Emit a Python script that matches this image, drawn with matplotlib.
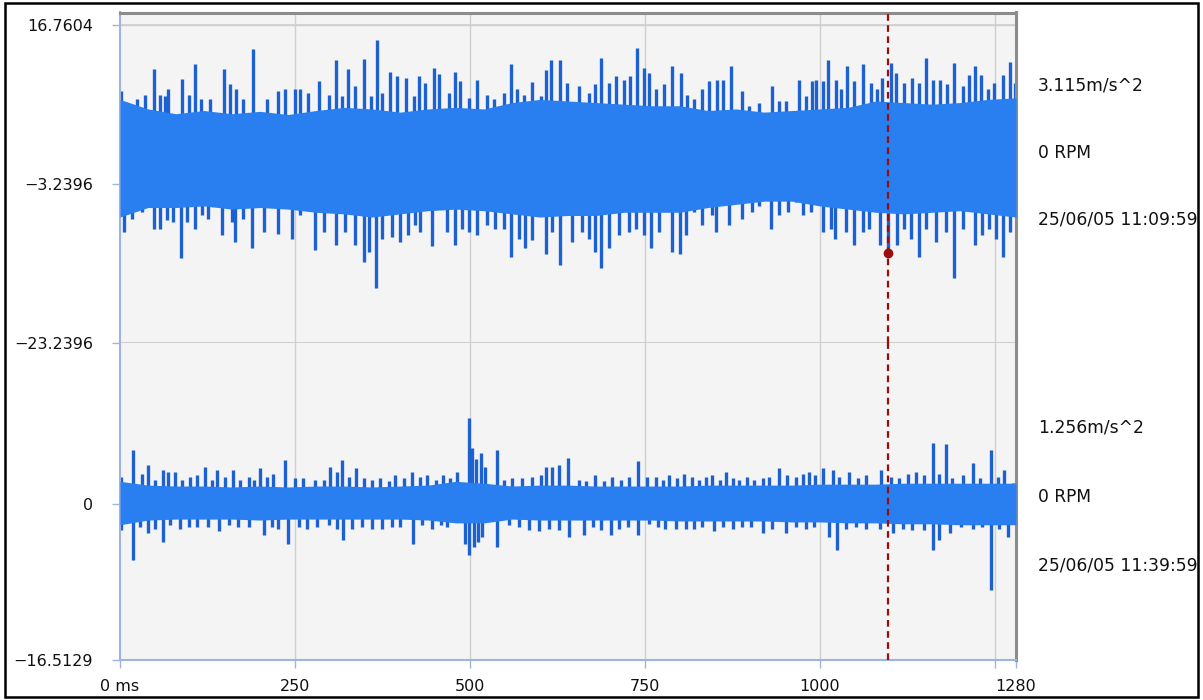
import matplotlib
matplotlib.use("Agg")
import matplotlib.pyplot as plt
from matplotlib.patches import Rectangle
import numpy as np

# time axis (ms)
t_end = 1280
x_ticks = [0, 250, 500, 750, 1000, 1250, 1280]
x_labels = ['0 ms', '250', '500', '750', '1000', '', '1280']

# core band of each channel, sampled every 40 ms
core_t = list(range(0, 1281, 40))
top_core_hi = [7.4, 6.2, 5.6, 6.0, 5.6, 5.9, 5.5, 6.0, 6.4, 6.2,
               5.8, 6.2, 6.4, 6.2, 7.0, 7.4, 7.2, 7.0, 6.8, 6.6,
               6.6, 6.0, 6.2, 5.8, 6.0, 6.2, 6.4, 7.2, 7.0, 6.8,
               7.0, 7.4, 7.6]
top_core_lo = [-7.4, -6.2, -6.2, -6.0, -6.4, -6.2, -6.4, -6.8, -7.0, -7.4,
               -7.0, -6.6, -6.4, -6.6, -7.0, -7.4, -7.2, -7.2, -6.8, -6.8,
               -6.8, -6.2, -5.8, -5.4, -5.4, -6.0, -6.4, -6.8, -7.0, -6.8,
               -6.6, -7.0, -7.4]
bot_core_hi = [2.4, 2.0, 1.9, 1.9, 1.8, 1.9, 1.8, 1.9, 1.9, 1.8,
               1.9, 2.0, 2.4, 2.2, 1.9, 2.0, 2.0, 1.9, 1.9, 1.9,
               1.9, 2.0, 2.0, 2.0, 2.0, 2.1, 2.1, 2.1, 2.2, 2.2,
               2.2, 2.2, 2.2]
bot_core_lo = [-2.2, -1.7, -1.6, -1.6, -1.6, -1.7, -1.6, -1.6, -1.6, -1.6,
               -1.6, -1.7, -2.0, -2.0, -1.6, -1.7, -1.7, -1.7, -1.7, -1.7,
               -1.8, -1.8, -1.8, -1.8, -1.9, -1.9, -2.0, -2.0, -2.1, -2.1,
               -2.2, -2.2, -2.2]

# peaks of channel 1 (m/s^2)
top_up_t = [2, 24, 35, 49, 57, 64, 69, 88, 98, 107,
            116, 129, 148, 157, 165, 176, 190, 210, 226, 236,
            250, 257, 268, 284, 298, 308, 317, 325, 336, 348,
            358, 367, 374, 386, 396, 408, 420, 427, 435, 448,
            456, 470, 479, 485, 498, 510, 524, 534, 548, 559,
            567, 577, 589, 601, 608, 616, 628, 639, 656, 670,
            679, 687, 698, 709, 720, 729, 739, 748, 756, 765,
            777, 789, 801, 810, 820, 832, 841, 853, 861, 873,
            889, 899, 913, 931, 942, 951, 970, 980, 989, 994,
            1004, 1012, 1023, 1030, 1039, 1049, 1061, 1073, 1082, 1089,
            1101, 1108, 1120, 1132, 1142, 1151, 1161, 1171, 1182, 1192,
            1204, 1213, 1221, 1230, 1240, 1249, 1261, 1272, 1278]
top_up_v = [8.4, 7.4, 8.0, 11.2, 8.0, 7.8, 8.7, 10.0, 8.0, 11.9,
            7.4, 7.4, 11.2, 9.3, 8.7, 7.4, 13.8, 7.4, 8.4, 8.7,
            8.7, 8.7, 8.2, 9.7, 8.0, 12.4, 7.8, 11.2, 9.1, 12.5,
            7.8, 14.9, 8.2, 10.9, 10.3, 10.1, 7.8, 10.3, 9.5, 11.3,
            10.6, 8.2, 10.9, 9.7, 7.6, 9.9, 8.0, 7.4, 8.2, 11.9,
            8.7, 8.0, 9.6, 7.8, 11.1, 12.4, 12.4, 9.5, 9.1, 8.2,
            9.3, 12.6, 9.5, 10.3, 9.9, 10.3, 13.9, 11.4, 10.7, 8.7,
            9.3, 11.6, 10.7, 8.0, 7.4, 8.7, 9.7, 9.9, 9.9, 11.6,
            8.4, 6.6, 7.0, 9.1, 7.2, 7.2, 9.9, 7.8, 9.7, 9.9,
            9.7, 12.4, 9.9, 8.7, 11.6, 9.7, 11.8, 9.5, 8.7, 10.1,
            12.0, 10.7, 9.5, 10.1, 9.5, 12.6, 9.9, 9.9, 9.3, 12.0,
            9.1, 10.5, 11.6, 10.5, 8.7, 9.5, 10.5, 12.1, 9.5]
top_dn_t = [5, 17, 31, 48, 57, 67, 76, 87, 95, 107,
            117, 126, 145, 160, 164, 176, 188, 205, 226, 246,
            257, 279, 291, 308, 322, 336, 348, 355, 366, 374,
            389, 400, 412, 422, 429, 446, 467, 478, 489, 498,
            510, 524, 536, 548, 559, 570, 579, 589, 608, 617,
            628, 646, 660, 670, 679, 687, 698, 713, 727, 737,
            748, 758, 770, 789, 800, 808, 820, 832, 846, 851,
            870, 889, 903, 913, 930, 942, 954, 965, 975, 987,
            1004, 1016, 1022, 1037, 1049, 1061, 1070, 1085, 1097, 1110,
            1120, 1130, 1141, 1151, 1166, 1180, 1191, 1204, 1222, 1232,
            1242, 1252, 1262, 1271]
top_dn_v = [-9.3, -7.6, -6.8, -8.85, -8.85, -7.8, -8.0, -12.6, -8.0, -8.85,
            -7.2, -7.6, -9.7, -8.0, -10.5, -7.6, -11.35, -9.3, -9.5, -10.1,
            -7.2, -11.6, -9.3, -10.9, -9.3, -10.9, -13.0, -11.8, -16.3, -10.1,
            -9.9, -10.5, -9.7, -8.4, -9.3, -11.1, -9.3, -10.9, -8.85, -9.3,
            -9.7, -8.4, -8.85, -8.85, -12.4, -10.1, -11.35, -10.3, -12.0, -9.3,
            -13.4, -10.5, -9.3, -10.1, -11.8, -13.85, -11.35, -9.7, -9.3, -8.85,
            -9.7, -11.35, -9.3, -11.8, -12.0, -9.7, -6.8, -8.4, -7.2, -9.3,
            -8.4, -7.6, -6.8, -5.95, -8.85, -7.2, -6.8, -5.5, -7.2, -6.8,
            -9.3, -8.85, -10.1, -9.3, -10.9, -9.3, -8.85, -10.9, -11.9, -10.9,
            -8.85, -10.1, -12.4, -8.85, -10.5, -9.3, -15.1, -8.85, -10.9, -9.7,
            -8.85, -10.1, -12.4, -9.3]

# peaks of channel 2 (m/s^2)
bot_up_t = [2, 19, 31, 40, 50, 62, 69, 79, 88, 100,
            110, 121, 131, 138, 150, 161, 172, 184, 191, 200,
            210, 219, 236, 250, 262, 279, 291, 300, 310, 317,
            327, 337, 348, 360, 372, 384, 393, 405, 417, 429,
            439, 451, 462, 472, 482, 498, 503, 508, 516, 522,
            539, 548, 560, 574, 589, 601, 608, 617, 627, 640,
            656, 665, 679, 691, 703, 715, 727, 740, 753, 765,
            775, 784, 796, 806, 817, 827, 837, 846, 857, 865,
            875, 884, 896, 906, 918, 927, 942, 953, 965, 975,
            984, 993, 1004, 1018, 1027, 1042, 1054, 1065, 1087, 1101,
            1113, 1125, 1137, 1149, 1161, 1170, 1180, 1189, 1204, 1218,
            1228, 1244, 1254, 1263, 1275]
bot_up_v = [2.9, 5.7, 3.2, 4.1, 2.5, 3.6, 3.4, 3.4, 2.5, 2.9,
            3.1, 3.9, 2.5, 3.6, 2.9, 3.6, 2.5, 2.9, 2.5, 3.8,
            2.9, 3.2, 4.7, 2.7, 2.7, 2.5, 2.5, 3.9, 3.4, 4.7,
            2.9, 3.8, 2.7, 2.5, 2.7, 2.4, 3.1, 2.7, 3.4, 2.9,
            3.1, 2.5, 3.1, 2.7, 3.4, 9.1, 5.9, 4.8, 5.4, 3.9,
            5.7, 2.5, 2.7, 2.7, 2.9, 3.1, 3.9, 3.9, 4.1, 4.9,
            2.5, 2.4, 3.1, 2.4, 2.9, 2.5, 2.9, 4.5, 2.9, 2.9,
            2.5, 3.1, 2.7, 3.2, 2.9, 2.5, 2.9, 3.1, 2.5, 3.4,
            2.7, 2.5, 2.9, 2.5, 2.7, 2.9, 3.8, 3.1, 2.9, 3.2,
            3.4, 3.1, 3.8, 3.6, 2.9, 3.4, 2.7, 3.1, 3.6, 2.9,
            2.7, 3.2, 3.4, 3.1, 6.5, 3.2, 6.4, 2.7, 3.1, 4.3,
            2.7, 5.7, 2.9, 3.6, 2.2]
bot_dn_t = [2, 18, 29, 40, 50, 62, 72, 86, 98, 110,
            126, 141, 155, 169, 184, 205, 217, 226, 240, 255,
            267, 281, 298, 310, 319, 331, 346, 360, 374, 389,
            400, 419, 431, 446, 458, 467, 479, 493, 499, 505,
            512, 517, 539, 555, 570, 584, 598, 613, 627, 641,
            663, 675, 687, 701, 713, 725, 740, 756, 768, 779,
            794, 808, 820, 832, 849, 861, 875, 889, 901, 918,
            932, 951, 965, 980, 992, 1013, 1024, 1037, 1051, 1065,
            1085, 1104, 1118, 1132, 1149, 1161, 1170, 1185, 1201, 1218,
            1232, 1244, 1256, 1268]
bot_dn_v = [-2.8, -5.9, -2.4, -3.1, -2.6, -4.0, -2.2, -2.6, -2.4, -2.4,
            -2.4, -2.9, -2.2, -2.4, -2.4, -3.3, -2.4, -2.6, -4.2, -2.4,
            -2.6, -2.4, -2.2, -2.6, -3.8, -2.6, -2.4, -2.6, -2.6, -2.4,
            -2.4, -4.2, -2.2, -2.6, -2.2, -2.4, -1.7, -4.2, -5.4, -4.5,
            -4.0, -3.5, -4.5, -2.2, -2.4, -2.8, -2.9, -2.6, -2.8, -3.5,
            -3.3, -2.4, -2.8, -3.3, -2.6, -2.4, -3.3, -2.1, -2.4, -2.6,
            -2.6, -2.6, -2.6, -2.4, -2.9, -2.4, -2.6, -2.4, -2.4, -3.1,
            -2.6, -3.1, -2.4, -2.6, -2.4, -3.5, -4.9, -2.6, -2.4, -2.6,
            -2.6, -3.1, -2.6, -2.8, -2.8, -4.9, -3.8, -3.1, -2.4, -2.6,
            -2.4, -9.1, -2.6, -3.5]

# cursor
cursor_t = 1097
cursor_v = -11.9

top_ticks = [16.7604, -3.2396, -23.2396]
top_tick_labels = ['16.7604', '\u22123.2396', '\u221223.2396']
bot_ticks = [0, -16.5129]
bot_tick_labels = ['0', '\u221216.5129']

top_info = ['3.115m/s^2', '0 RPM', '25/06/05 11:09:59']
bot_info = ['1.256m/s^2', '0 RPM', '25/06/05 11:39:59']

core_color = '#2a7ff0'
peak_color = '#1c60d2'
bg_color = '#f4f4f4'
axis_blue = '#9fb3e0'
frame_gray = '#8c8c8c'
grid_gray = '#cfcfcf'
cursor_red = '#9e0b0b'

plt.rcParams['font.family'] = ['DejaVu Sans']

fig = plt.figure(figsize=(12.03, 7.0), dpi=100)
W, H = 1203.0, 700.0
left, right = 120 / W, 1016 / W
ax_top = fig.add_axes([left, (H - 343) / H, right - left, 330.5 / H])
ax_bot = fig.add_axes([left, (H - 660) / H, right - left, 317 / H])


def draw_channel(ax, hi, lo, up_t, up_v, dn_t, dn_v):
    ax.set_facecolor(bg_color)
    ax.vlines(up_t, 0, up_v, color=peak_color, lw=2.4, zorder=2)
    ax.vlines(dn_t, 0, dn_v, color=peak_color, lw=2.4, zorder=2)
    ax.fill_between(core_t, lo, hi, color=core_color, lw=0, zorder=3)
    ax.set_xlim(0, t_end)
    ax.set_xticks(x_ticks)
    ax.grid(True, color=grid_gray, lw=1)
    ax.set_axisbelow(True)
    ax.axvline(cursor_t, color=cursor_red, lw=1.6, ls=(0, (3, 2)), zorder=5)
    ax.tick_params(axis='y', length=6, width=1, color=axis_blue, pad=13.5,
                   labelsize=11.5, labelcolor='#111111')
    ax.tick_params(axis='x', length=6, width=1, color=axis_blue, pad=8,
                   labelsize=11.5, labelcolor='#111111')
    ax.spines['left'].set_color(axis_blue)
    ax.spines['left'].set_linewidth(1.5)
    ax.spines['right'].set_color(frame_gray)
    ax.spines['right'].set_linewidth(2.2)


draw_channel(ax_top, top_core_hi, top_core_lo, top_up_t, top_up_v, top_dn_t, top_dn_v)
draw_channel(ax_bot, bot_core_hi, bot_core_lo, bot_up_t, bot_up_v, bot_dn_t, bot_dn_v)

ax_top.set_ylim(-23.2396, 18.33)
ax_top.set_yticks(top_ticks)
ax_top.set_yticklabels(top_tick_labels)
ax_top.tick_params(axis='x', bottom=False, labelbottom=False)
ax_top.spines['bottom'].set_visible(False)
ax_top.spines['top'].set_color(frame_gray)
ax_top.spines['top'].set_linewidth(2.2)
ax_top.axhline(16.7604, color=grid_gray, lw=1.2, zorder=1)
ax_top.axhline(-23.2396, color=grid_gray, lw=1.5, zorder=1, clip_on=False)
ax_top.plot([cursor_t], [cursor_v], 'o', color=cursor_red, ms=6, zorder=6)

ax_bot.set_ylim(-16.5129, 17.04)
ax_bot.set_yticks(bot_ticks)
ax_bot.set_yticklabels(bot_tick_labels)
ax_bot.set_xticklabels(x_labels)
ax_bot.spines['top'].set_visible(False)
ax_bot.spines['bottom'].set_color(axis_blue)
ax_bot.spines['bottom'].set_linewidth(1.5)
# no grid line on the first/last tick (they are the frame)
for ax in (ax_top, ax_bot):
    ax.get_xgridlines()[0].set_visible(False)
    ax.get_xgridlines()[-1].set_visible(False)

for txt, ypx in zip(top_info, [85, 153, 220]):
    fig.text(1038 / W, 1 - ypx / H, txt, fontsize=12.3, va='center', ha='left', color='#111111')
for txt, ypx in zip(bot_info, [427, 497, 565]):
    fig.text(1038 / W, 1 - ypx / H, txt, fontsize=12.3, va='center', ha='left', color='#111111')

fig.patches.append(Rectangle((5 / W, 3 / H), 1193 / W, 694 / H, transform=fig.transFigure,
                             fill=False, edgecolor='black', lw=1.8))

fig.savefig('out.png', dpi=100, facecolor='white')
